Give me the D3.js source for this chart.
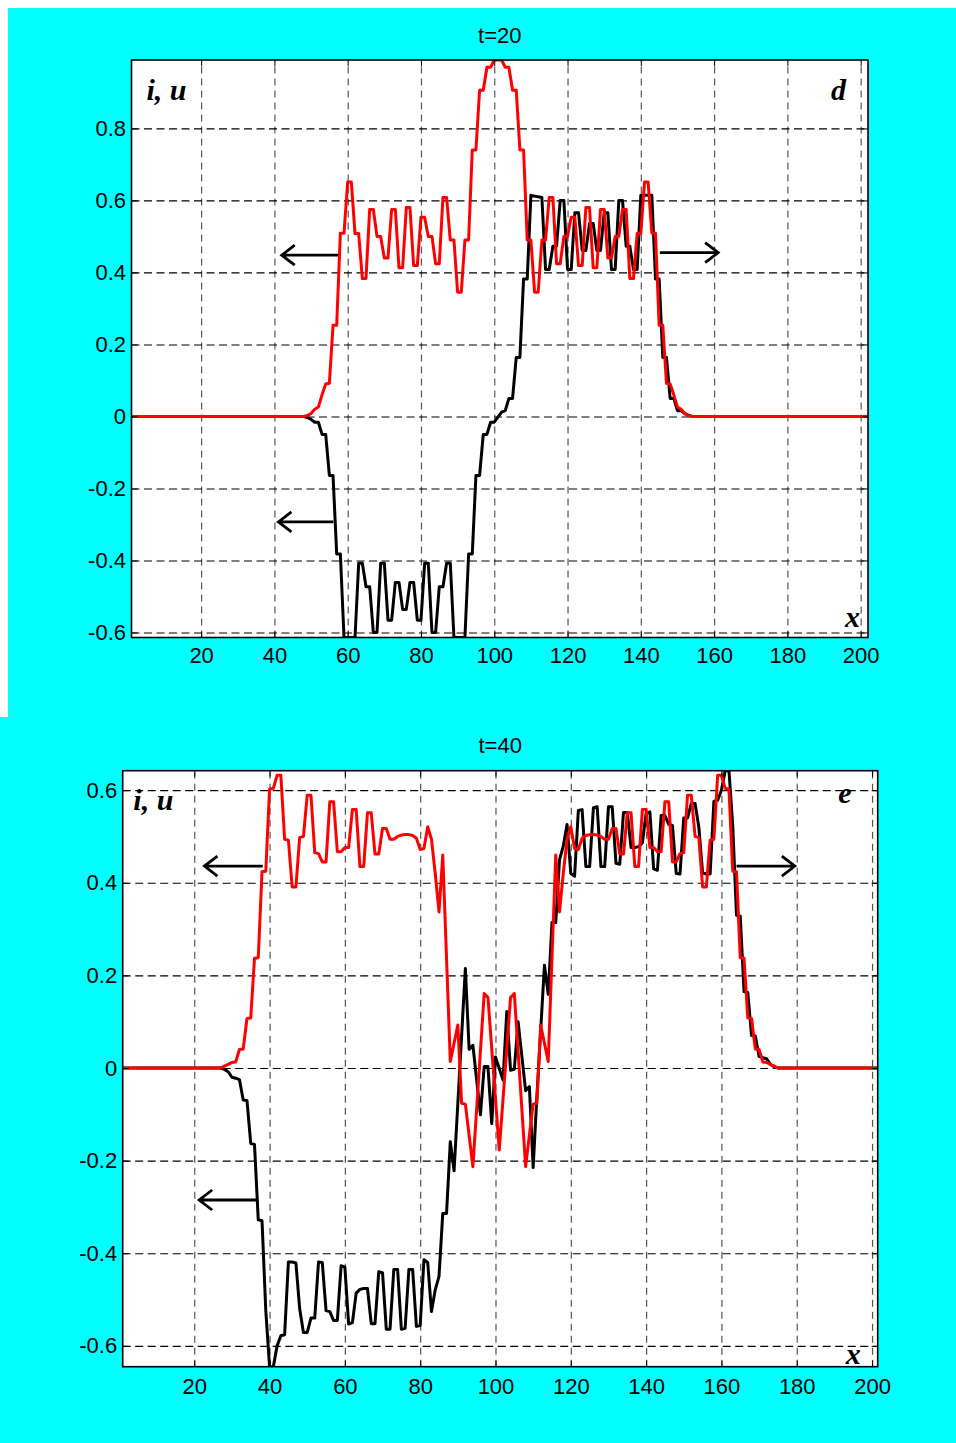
<!DOCTYPE html>
<html lang="en">
<head>
<meta charset="UTF-8">
<title>i, u profiles at t=20 and t=40</title>
<script src="https://cdn.jsdelivr.net/npm/d3@7"></script>
<style>
  body { margin: 0; background: #fff; }
  svg { display: block; }
  .tick text { font-family: "Liberation Sans", Arial, sans-serif; font-size: 22px; fill: #000; }
  .title { font-family: "Liberation Sans", Arial, sans-serif; font-size: 22px; fill: #000; }
  .tag { font-family: "Liberation Serif", "Times New Roman", serif; font-size: 30px; font-weight: bold; font-style: italic; fill: #000; }
</style>
</head>
<body>
<svg id="chart" width="956" height="1443"></svg>
<script>
// x ticks shared by both panels
const xTicks = [20, 40, 60, 80, 100, 120, 140, 160, 180, 200];
const yTicksT20 = [-0.6, -0.4, -0.2, 0, 0.2, 0.4, 0.6, 0.8];
const yTicksT40 = [-0.6, -0.4, -0.2, 0, 0.2, 0.4, 0.6];

// t=20 : black curve (current) and red curve (voltage), [x, value] vertices
const blackT20 = [[1,0],[48,0],[49,-0.003],[50,-0.008],[51,-0.016],[52,-0.016],[53,-0.05],[54,-0.05],
  [55,-0.164],[56,-0.164],[57,-0.382],[58,-0.382],[59,-0.614],[62,-0.614],[63,-0.408],[64,-0.408],
  [65,-0.473],[66,-0.473],[67,-0.6],[68,-0.6],[69,-0.408],[70,-0.408],[71,-0.566],[72,-0.566],
  [73,-0.461],[74,-0.461],[75,-0.536],[76,-0.536],[77,-0.461],[78,-0.461],[79,-0.566],[80,-0.566],
  [81,-0.408],[82,-0.408],[83,-0.6],[84,-0.6],[85,-0.473],[86,-0.473],[87,-0.408],[88,-0.408],
  [89,-0.614],[92,-0.614],[93,-0.382],[94,-0.382],[95,-0.164],[96,-0.164],[97,-0.05],[98,-0.05],
  [99,-0.016],[100,-0.016],[101,-0.002],[102,0.012],[103,0.016],[104,0.05],[105,0.05],[106,0.164],
  [107,0.164],[108,0.382],[109,0.382],[110,0.614],[113,0.608],[114,0.408],[115,0.408],[116,0.473],
  [117,0.473],[118,0.6],[119,0.6],[120,0.408],[121,0.408],[122,0.566],[123,0.566],[124,0.461],
  [125,0.461],[126,0.536],[127,0.536],[128,0.461],[129,0.461],[130,0.566],[131,0.566],[132,0.408],
  [133,0.408],[134,0.6],[135,0.6],[136,0.473],[137,0.473],[138,0.408],[139,0.408],[140,0.614],
  [143,0.614],[144,0.382],[145,0.382],[146,0.164],[147,0.164],[148,0.05],[149,0.05],[150,0.016],
  [151,0.016],[152,0.008],[153,0.003],[154,0],[202,0]];

const redT20 = [[1,0],[48,0],[49,0.003],[50,0.008],[51,0.02],[52,0.026],[53,0.06],[54,0.09],[55,0.092],
  [56,0.253],[57,0.253],[58,0.509],[59,0.509],[60,0.651],[61,0.651],[62,0.508],[63,0.508],[64,0.383],
  [65,0.383],[66,0.575],[67,0.575],[68,0.5],[69,0.5],[70,0.44],[71,0.44],[72,0.575],[73,0.575],
  [74,0.413],[75,0.413],[76,0.58],[77,0.58],[78,0.419],[79,0.419],[80,0.553],[81,0.553],[82,0.5],
  [83,0.5],[84,0.424],[85,0.424],[86,0.608],[87,0.608],[88,0.49],[89,0.49],[90,0.345],[91,0.345],
  [92,0.49],[93,0.49],[94,0.74],[95,0.74],[96,0.906],[97,0.906],[98,0.97],[99,0.97],[100,0.99],
  [102,0.99],[103,0.97],[104,0.97],[105,0.906],[106,0.906],[107,0.74],[108,0.74],[109,0.49],
  [110,0.49],[111,0.345],[112,0.345],[113,0.49],[114,0.49],[115,0.608],[116,0.608],[117,0.424],
  [118,0.424],[119,0.5],[120,0.5],[121,0.553],[122,0.553],[123,0.419],[124,0.419],[125,0.58],
  [126,0.58],[127,0.413],[128,0.413],[129,0.575],[130,0.575],[131,0.44],[132,0.44],[133,0.5],
  [134,0.5],[135,0.575],[136,0.575],[137,0.383],[138,0.383],[139,0.508],[140,0.508],[141,0.651],
  [142,0.651],[143,0.509],[144,0.509],[145,0.253],[146,0.253],[147,0.092],[148,0.09],[149,0.06],
  [150,0.026],[151,0.02],[152,0.008],[153,0.003],[154,0],[202,0]];

// t=40
const blackT40 = [[1,0],[27,0],[28,-0.003],[29,-0.008],[30,-0.02],[31,-0.022],[32,-0.025],[33,-0.069],
  [34,-0.07],[35,-0.163],[36,-0.165],[37,-0.328],[38,-0.33],[39,-0.524],[40,-0.645],[41,-0.645],
  [42,-0.6],[43,-0.578],[44,-0.576],[45,-0.419],[46,-0.419],[47,-0.421],[48,-0.52],[49,-0.571],
  [50,-0.571],[51,-0.54],[52,-0.54],[53,-0.419],[54,-0.42],[55,-0.524],[56,-0.526],[57,-0.545],
  [58,-0.545],[59,-0.427],[60,-0.43],[61,-0.553],[62,-0.55],[63,-0.486],[64,-0.478],[65,-0.476],
  [66,-0.476],[67,-0.552],[68,-0.552],[69,-0.44],[70,-0.442],[71,-0.564],[72,-0.564],[73,-0.435],
  [74,-0.435],[75,-0.564],[76,-0.562],[77,-0.435],[78,-0.435],[79,-0.558],[80,-0.556],[81,-0.414],
  [82,-0.42],[83,-0.526],[84,-0.479],[85,-0.45],[86,-0.314],[87,-0.314],[88,-0.159],[89,-0.222],
  [92,0.215],[93,0.04],[94,0.049],[96,-0.101],[97,0.003],[98,0.003],[99,-0.12],[100,0.024],
  [102,-0.026],[103,0.122],[104,-0.005],[105,-0.003],[106,0.1],[108,-0.049],[109,-0.04],[110,-0.215],
  [111,-0.06],[113,0.222],[114,0.159],[115,0.314],[116,0.314],[117,0.45],[118,0.479],[119,0.526],
  [120,0.42],[121,0.414],[122,0.556],[123,0.558],[124,0.435],[125,0.435],[126,0.562],[127,0.564],
  [128,0.435],[129,0.435],[130,0.564],[131,0.564],[132,0.442],[133,0.44],[134,0.552],[135,0.552],
  [136,0.476],[137,0.476],[138,0.478],[139,0.486],[140,0.55],[141,0.553],[142,0.43],[143,0.427],
  [144,0.545],[145,0.545],[146,0.526],[147,0.524],[148,0.42],[149,0.419],[150,0.54],[151,0.54],
  [152,0.571],[153,0.571],[154,0.52],[155,0.421],[156,0.419],[157,0.419],[158,0.576],[159,0.578],
  [160,0.6],[161,0.642],[162,0.642],[163,0.524],[164,0.33],[165,0.328],[166,0.165],[167,0.163],
  [168,0.07],[169,0.069],[170,0.025],[171,0.022],[172,0.02],[173,0.008],[174,0.003],[175,0],[202,0]];

const redT40 = [[1,0],[27,0],[28,0.004],[29,0.008],[30,0.012],[31,0.013],[32,0.04],[33,0.041],
  [34,0.107],[35,0.108],[36,0.237],[37,0.238],[38,0.424],[39,0.425],[40,0.602],[41,0.604],[42,0.632],
  [43,0.632],[44,0.494],[45,0.492],[46,0.391],[47,0.391],[48,0.498],[49,0.5],[50,0.589],[51,0.589],
  [52,0.465],[53,0.463],[54,0.445],[55,0.445],[56,0.575],[57,0.575],[58,0.467],[59,0.467],[60,0.476],
  [61,0.476],[62,0.558],[63,0.558],[64,0.435],[65,0.435],[66,0.551],[67,0.551],[68,0.462],[69,0.462],
  [70,0.517],[71,0.517],[72,0.494],[73,0.494],[74,0.5],[75,0.503],[76,0.504],[77,0.504],[78,0.502],
  [79,0.496],[80,0.472],[81,0.474],[82,0.521],[83,0.494],[84,0.42],[85,0.337],[86,0.46],[88,0.014],
  [90,0.093],[91,-0.076],[92,-0.078],[94,-0.213],[97,0.161],[98,0.152],[101,-0.177],[104,0.152],
  [105,0.161],[108,-0.213],[110,-0.078],[111,-0.076],[112,0.093],[114,0.014],[116,0.46],[117,0.337],
  [118,0.42],[119,0.494],[120,0.521],[121,0.474],[122,0.472],[123,0.496],[124,0.502],[125,0.504],
  [126,0.504],[127,0.503],[128,0.5],[129,0.494],[130,0.494],[131,0.517],[132,0.517],[133,0.462],
  [134,0.462],[135,0.551],[136,0.551],[137,0.435],[138,0.435],[139,0.558],[140,0.558],[141,0.476],
  [142,0.476],[143,0.467],[144,0.467],[145,0.575],[146,0.575],[147,0.445],[148,0.445],[149,0.463],
  [150,0.465],[151,0.589],[152,0.589],[153,0.5],[154,0.498],[155,0.391],[156,0.391],[157,0.492],
  [158,0.494],[159,0.632],[160,0.632],[161,0.604],[162,0.602],[163,0.425],[164,0.424],[165,0.238],
  [166,0.237],[167,0.108],[168,0.107],[169,0.041],[170,0.04],[171,0.013],[172,0.012],[173,0.008],
  [174,0.004],[175,0],[202,0]];

// direction arrows: [tail x, tip x, value]
const arrowsT20 = [[57.4, 42.0, 0.448], [56.1, 41.1, -0.293], [145.2, 161.1, 0.455]];
const arrowsT40 = [[38.2, 22.7, 0.436], [36.6, 21.3, -0.285], [164.0, 179.5, 0.436]];

const panels = [
  { title: "t=20", tag: "d", bg: [8, 8, 948, 709], box: { l: 131.5, t: 60, r: 868, b: 637.5 },
    xDomain: [1, 202], yDomain: [-0.614, 0.99], yTicks: yTicksT20, black: blackT20, red: redT20,
    arrows: arrowsT20, titleY: 42.5, xPad: 10, tagPos: { iu: [15, 40], tg: [-37, 40], x: [-23, -10.5] } },
  { title: "t=40", tag: "e", bg: [0, 717, 956, 726], box: { l: 122.7, t: 770.7, r: 877.7, b: 1366.7 },
    xDomain: [1, 201.5], yDomain: [-0.645, 0.642], yTicks: yTicksT40, black: blackT40, red: redT40,
    arrows: arrowsT40, titleY: 753, xPad: 11.5, tagPos: { iu: [10.6, 39.3], tg: [-39.4, 32.3], x: [-32, -2.7] } }
];

const svg = d3.select("#chart");

panels.forEach((p, idx) => {
  const b = p.box;
  const w = b.r - b.l, h = b.b - b.t;

  svg.append("rect")
    .attr("x", p.bg[0]).attr("y", p.bg[1])
    .attr("width", p.bg[2]).attr("height", p.bg[3])
    .attr("fill", "#00ffff");

  svg.append("text")
    .attr("class", "title")
    .attr("x", (b.l + b.r) / 2)
    .attr("y", p.titleY)
    .attr("text-anchor", "middle")
    .text(p.title);

  const x = d3.scaleLinear().domain(p.xDomain).range([0, w]);
  const y = d3.scaleLinear().domain(p.yDomain).range([h, 0]);

  const g = svg.append("g").attr("transform", `translate(${b.l},${b.t})`);

  g.append("rect").attr("width", w).attr("height", h).attr("fill", "#fff");

  // dashed grid
  g.append("g")
    .attr("transform", `translate(0,${h})`)
    .call(d3.axisBottom(x).tickValues(xTicks).tickSize(-h).tickFormat(""))
    .call(s => s.select(".domain").remove())
    .selectAll("line")
    .attr("stroke", "#555")
    .attr("stroke-width", 1.2)
    .attr("stroke-dasharray", "7,5");

  g.append("g")
    .call(d3.axisLeft(y).tickValues(p.yTicks).tickSize(-w).tickFormat(""))
    .call(s => s.select(".domain").remove())
    .selectAll("line")
    .attr("stroke", "#000")
    .attr("stroke-width", 1.1)
    .attr("stroke-dasharray", "8,4.5");

  // curves
  const clipId = "clip" + idx;
  g.append("clipPath").attr("id", clipId)
    .append("rect").attr("width", w).attr("height", h);

  const line = d3.line().x(d => x(d[0])).y(d => y(d[1]));

  g.append("path")
    .datum(p.black)
    .attr("clip-path", `url(#${clipId})`)
    .attr("fill", "none")
    .attr("stroke", "#000")
    .attr("stroke-width", 3)
    .attr("stroke-linejoin", "round")
    .attr("d", line);

  g.append("path")
    .datum(p.red)
    .attr("clip-path", `url(#${clipId})`)
    .attr("fill", "none")
    .attr("stroke", "#ff0000")
    .attr("stroke-width", 3)
    .attr("stroke-linejoin", "round")
    .attr("d", line);

  // arrows
  p.arrows.forEach(a => {
    const x0 = x(a[0]), x1 = x(a[1]), yy = y(a[2]);
    const dir = x1 < x0 ? 1 : -1;
    g.append("path")
      .attr("fill", "none")
      .attr("stroke", "#000")
      .attr("stroke-width", 2.8)
      .attr("d", `M${x0},${yy}L${x1},${yy}M${x1 + dir * 13},${yy - 10}L${x1},${yy}L${x1 + dir * 13},${yy + 10}`);
  });

  // axes with inward ticks
  g.append("g")
    .attr("transform", `translate(0,${h})`)
    .call(d3.axisBottom(x).tickValues(xTicks).tickSize(-6).tickPadding(p.xPad))
    .call(s => s.select(".domain").remove());

  g.append("g")
    .call(d3.axisTop(x).tickValues(xTicks).tickSize(-6).tickFormat(""))
    .call(s => s.select(".domain").remove());

  g.append("g")
    .call(d3.axisLeft(y).tickValues(p.yTicks).tickSize(-6).tickPadding(5.5)
      .tickFormat(d => d === 0 ? "0" : d3.format(".1f")(d).replace("−", "-")))
    .call(s => s.select(".domain").remove());

  g.append("g")
    .attr("transform", `translate(${w},0)`)
    .call(d3.axisRight(y).tickValues(p.yTicks).tickSize(-6).tickFormat(""))
    .call(s => s.select(".domain").remove());

  g.selectAll(".tick line").filter(function () { return !this.getAttribute("stroke-dasharray"); })
    .attr("stroke", "#000");

  g.append("rect")
    .attr("width", w).attr("height", h)
    .attr("fill", "none")
    .attr("stroke", "#000")
    .attr("stroke-width", 1.6);

  // labels inside the axes
  g.append("text").attr("class", "tag")
    .attr("x", p.tagPos.iu[0]).attr("y", p.tagPos.iu[1]).text("i, u");
  g.append("text").attr("class", "tag")
    .attr("x", w + p.tagPos.tg[0]).attr("y", p.tagPos.tg[1]).text(p.tag);
  g.append("text").attr("class", "tag")
    .attr("x", w + p.tagPos.x[0]).attr("y", h + p.tagPos.x[1]).text("x");
});
</script>
</body>
</html>
